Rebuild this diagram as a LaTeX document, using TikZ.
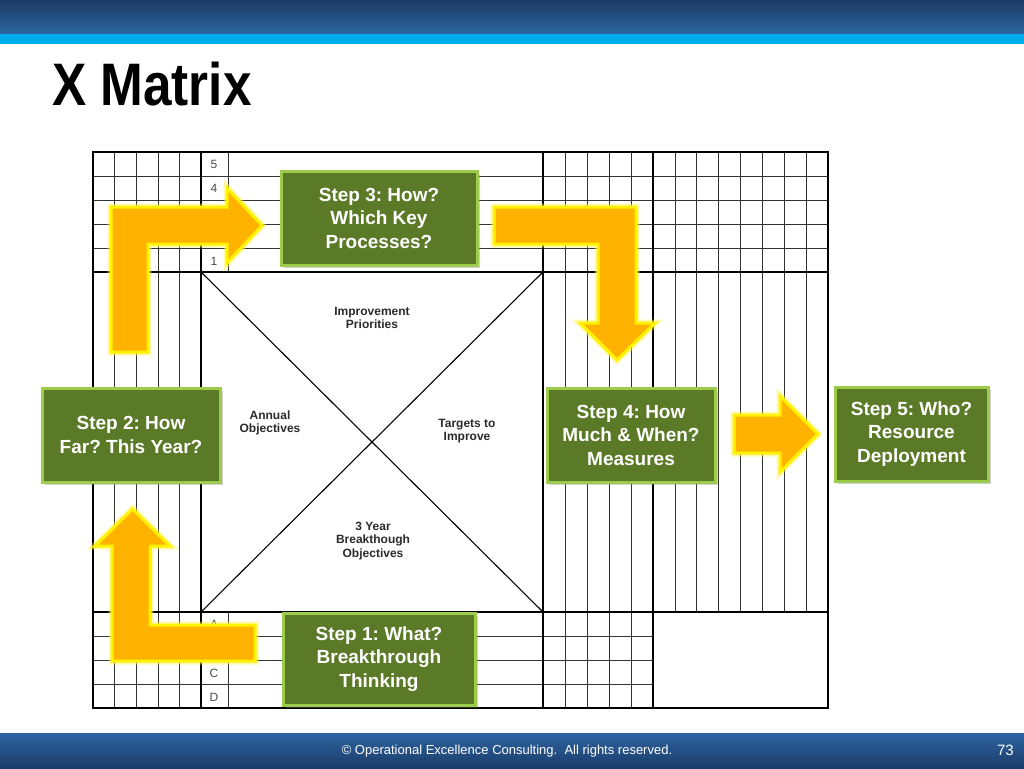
\documentclass[tikz,border=0pt]{standalone}
\usepackage{fontspec}
\setmainfont{Liberation Sans}
\usetikzlibrary{shadows}
\frenchspacing
\definecolor{stepgreen}{HTML}{5B7A28}
\definecolor{stepborder}{HTML}{9DCC4C}
\definecolor{arrowfill}{HTML}{FFB300}
\definecolor{arrowedge}{HTML}{FFF200}
\definecolor{topdark}{HTML}{1D3A64}
\definecolor{topmid}{HTML}{2C67A3}
\definecolor{stripe}{HTML}{00AEEF}
\definecolor{footlight}{HTML}{2E64A2}
\definecolor{footdark}{HTML}{1B3C69}
\definecolor{labelgray}{HTML}{2B2B2B}
\definecolor{numgray}{HTML}{4A4A4A}
\begin{document}
\begin{tikzpicture}[x=1pt,y=-1pt,
  gridthin/.style={draw=black!80, line width=0.6pt},
  gridthick/.style={draw=black, line width=1.5pt},
  crossline/.style={draw=black, line width=1.1pt},
  stepbox/.style={draw=stepborder, line width=3pt, fill=stepgreen, text=white,
    font=\fontsize{19}{23.5}\selectfont\bfseries\frenchspacing, align=center, inner sep=0pt,
    drop shadow={shadow xshift=3pt, shadow yshift=-3pt, opacity=0.35}},
  bigarrow/.style={fill=arrowfill, draw=arrowedge, line width=3pt, line join=miter,
    preaction={draw=arrowedge!70!white, line width=7pt, opacity=0.45}},
  quadlabel/.style={font=\fontsize{12}{13.5}\selectfont\bfseries, text=labelgray, align=center, inner sep=0pt},
  numlabel/.style={font=\fontsize{12}{14}\selectfont, text=numgray, inner sep=0pt}]
\useasboundingbox (0,0) rectangle (1024,768);
\fill[white] (0,0) rectangle (1024,768);
% header
\shade[top color=topdark, bottom color=topmid] (0,0) rectangle (1024,34);
\fill[stripe] (0,34) rectangle (1024,44);
\node[anchor=base west, inner sep=0pt, font=\fontsize{60}{60}\selectfont\bfseries] (title) at (52,105) {\scalebox{0.855}[1]{X Matrix}};
% footer
\shade[top color=footlight, bottom color=footdark] (0,733) rectangle (1024,768);
\node[text=white, font=\fontsize{13}{15}\selectfont, inner sep=0pt] (foot) at (507,751) {\textcopyright\ Operational Excellence Consulting.\ \ All rights reserved.};
\node[text=white, font=\fontsize{15}{17}\selectfont, anchor=east, inner sep=0pt] (page) at (1014,750) {73};

% grid thin lines
\foreach \x in {114.6,136.2,157.8,179.4,565,587,609,631}
  \draw[gridthin] (\x,152) -- (\x,708);
\foreach \k in {1,...,7}
  \draw[gridthin] ({653+\k*21.875},152) -- ({653+\k*21.875},612);
\foreach \y in {176,200,224,248}
  \draw[gridthin] (93,\y) -- (828,\y);
\foreach \y in {636,660,684}
  \draw[gridthin] (93,\y) -- (653,\y);
\draw[gridthin] (228,152) -- (228,272);
\draw[gridthin] (228,612) -- (228,708);
% thick lines
\draw[gridthick] (201,152) -- (201,708);
\draw[gridthick] (543,152) -- (543,708);
\draw[gridthick] (653,152) -- (653,708);
\draw[gridthick] (93,272) -- (828,272);
\draw[gridthick] (93,612) -- (828,612);
\draw[draw=black, line width=2.6pt] (93,152) rectangle (828,708);
% X
\coordinate (tl) at (201,272);
\coordinate (tr) at (543,272);
\coordinate (bl) at (201,612);
\coordinate (br) at (543,612);
\draw[crossline] (tl) -- (br);
\draw[crossline] (tr) -- (bl);
% quadrant labels
\node[quadlabel] (prio) at (372,318) {Improvement\\Priorities};
\node[quadlabel] (annual) at (270,423) {Annual\\Objectives};
\node[quadlabel] (targets) at (467,431) {Targets to\\Improve};
\node[quadlabel] (breakthrough) at (373,541) {3 Year\\Breakthough\\Objectives};
% row numbers / letters
\node[numlabel] (n5) at (214,164) {5};
\node[numlabel] (n4) at (214,188) {4};
\node[numlabel] (n1) at (214,261) {1};
\node[numlabel] (la) at (214,624) {A};
\node[numlabel] (lc) at (214,673) {C};
\node[numlabel] (ld) at (214,697) {D};

% arrows
\path[bigarrow] (111,352) -- (111,207) -- (227,207) -- (227,188) -- (262,225.5) -- (227,263) -- (227,244) -- (148,244) -- (148,352) -- cycle;
\path[bigarrow] (494,207) -- (636,207) -- (636,323) -- (655,323) -- (617,360) -- (580,323) -- (598,323) -- (598,244) -- (494,244) -- cycle;
\path[bigarrow] (255,661) -- (112,661) -- (112,546) -- (95,546) -- (132.5,509) -- (170,546) -- (150,546) -- (150,625) -- (255,625) -- cycle;
\path[bigarrow] (734,415) -- (780,415) -- (780,396) -- (818,434) -- (780,472) -- (780,453) -- (734,453) -- cycle;

% step boxes
\node[stepbox, minimum width=196pt, minimum height=94pt] (s3) at (379,218) {Step 3: How?\\Which Key\\Processes?};
\node[stepbox, minimum width=178pt, minimum height=94pt] (s2) at (131,435) {Step 2: How\\Far? This Year?};
\node[stepbox, minimum width=168pt, minimum height=94pt] (s4) at (631,435) {Step 4: How\\Much \& When?\\Measures};
\node[stepbox, minimum width=153pt, minimum height=94pt] (s5) at (911.5,434) {Step 5: Who?\\Resource\\Deployment};
\node[stepbox, minimum width=192pt, minimum height=92pt] (s1) at (379,659) {Step 1: What?\\Breakthrough\\Thinking};
\end{tikzpicture}
\end{document}
